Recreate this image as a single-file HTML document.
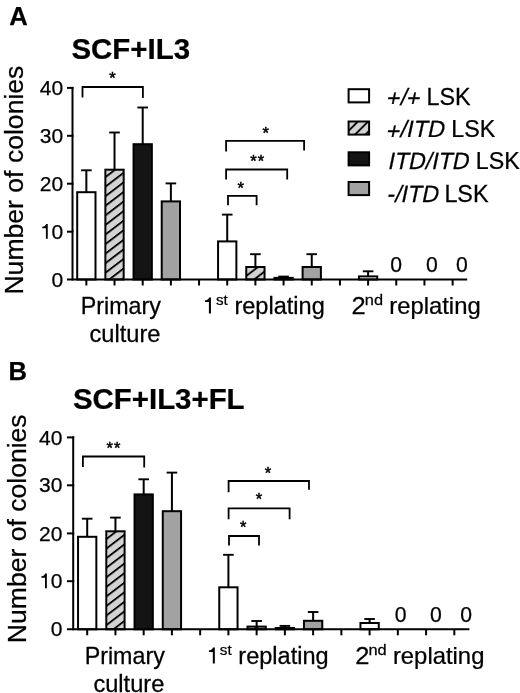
<!DOCTYPE html>
<html><head><meta charset="utf-8"><style>
html,body{margin:0;padding:0;background:#fff;width:520px;height:693px;overflow:hidden}
svg{display:block;filter:grayscale(1)}
text{font-family:"Liberation Sans",sans-serif;fill:#000;stroke:#000;stroke-width:0.25px}
</style></head><body>
<svg width="520" height="693" viewBox="0 0 520 693">
<defs>
<pattern id="h1" patternUnits="userSpaceOnUse" width="12.526" height="9.570" patternTransform="skewY(-37.380)"><rect width="12.526" height="9.570" fill="#d3d3d3"/><rect y="-1.877" width="12.526" height="2.3" fill="#000"/><rect y="7.693" width="12.526" height="2.3" fill="#000"/></pattern>
<pattern id="h2" patternUnits="userSpaceOnUse" width="12.526" height="9.570" patternTransform="skewY(-37.380)"><rect width="12.526" height="9.570" fill="#d3d3d3"/><rect y="3.593" width="12.526" height="2.3" fill="#000"/></pattern>
<pattern id="h3" patternUnits="userSpaceOnUse" width="10.300" height="10.300" patternTransform="skewY(-45.000)"><rect width="10.300" height="10.300" fill="#d3d3d3"/><rect y="4.300" width="10.300" height="2.6" fill="#000"/></pattern>
<pattern id="h4" patternUnits="userSpaceOnUse" width="12.526" height="9.570" patternTransform="skewY(-37.380)"><rect width="12.526" height="9.570" fill="#d3d3d3"/><rect y="6.662" width="12.526" height="2.3" fill="#000"/></pattern>
<pattern id="h5" patternUnits="userSpaceOnUse" width="12.526" height="9.570" patternTransform="skewY(-37.380)"><rect width="12.526" height="9.570" fill="#d3d3d3"/><rect y="-0.586" width="12.526" height="2.3" fill="#000"/><rect y="8.984" width="12.526" height="2.3" fill="#000"/></pattern>
</defs>
<rect width="520" height="693" fill="#fff"/>
<text transform="translate(9.16,24.80)" font-size="25.6" font-weight="bold" font-style="normal">A</text>
<text transform="translate(71.45,59.20) scale(1.0117,1)" font-size="29.1" font-weight="bold" font-style="normal">SCF+IL3</text>
<text transform="translate(23.20,294.58) rotate(-90) scale(1.0070,1)" font-size="26.4" font-weight="normal" font-style="normal">Number of colonies</text>
<text x="39.86" y="95.05" font-size="21.0" font-weight="normal" font-style="normal">40</text>
<text x="39.86" y="142.95" font-size="21.0" font-weight="normal" font-style="normal">30</text>
<text x="39.86" y="190.85" font-size="21.0" font-weight="normal" font-style="normal">20</text>
<text x="51.54" y="238.85" font-size="21.0" font-weight="normal" font-style="normal">0</text>
<path transform="translate(40.21,238.85) scale(0.02100,-0.02100)" d="M359 703L359 0L271 0L271 505L101 505L101 578C196 582 255 620 278 703Z" fill="#000"/>
<text x="51.54" y="286.65" font-size="21.0" font-weight="normal" font-style="normal">0</text>
<line x1="86.35" y1="192.20" x2="86.35" y2="170.30" stroke="#000" stroke-width="2"/>
<line x1="81.05" y1="170.30" x2="91.65" y2="170.30" stroke="#000" stroke-width="1.9"/>
<rect x="77.20" y="192.20" width="18.30" height="87.30" fill="#ffffff" stroke="#000" stroke-width="2.0"/>
<line x1="114.52" y1="169.70" x2="114.52" y2="132.50" stroke="#000" stroke-width="2"/>
<line x1="109.22" y1="132.50" x2="119.82" y2="132.50" stroke="#000" stroke-width="1.9"/>
<rect x="105.37" y="169.70" width="18.30" height="109.80" fill="url(#h1)" stroke="#000" stroke-width="2.0"/>
<line x1="142.70" y1="144.20" x2="142.70" y2="107.50" stroke="#000" stroke-width="2"/>
<line x1="137.40" y1="107.50" x2="148.00" y2="107.50" stroke="#000" stroke-width="1.9"/>
<rect x="133.55" y="144.20" width="18.30" height="135.30" fill="#141414" stroke="#000" stroke-width="2.0"/>
<line x1="170.88" y1="201.40" x2="170.88" y2="183.40" stroke="#000" stroke-width="2"/>
<line x1="165.57" y1="183.40" x2="176.18" y2="183.40" stroke="#000" stroke-width="1.9"/>
<rect x="161.72" y="201.40" width="18.30" height="78.10" fill="#a2a2a2" stroke="#000" stroke-width="2.0"/>
<line x1="227.22" y1="241.40" x2="227.22" y2="214.60" stroke="#000" stroke-width="2"/>
<line x1="221.92" y1="214.60" x2="232.53" y2="214.60" stroke="#000" stroke-width="1.9"/>
<rect x="218.07" y="241.40" width="18.30" height="38.10" fill="#ffffff" stroke="#000" stroke-width="2.0"/>
<line x1="255.40" y1="267.00" x2="255.40" y2="254.20" stroke="#000" stroke-width="2"/>
<line x1="250.10" y1="254.20" x2="260.70" y2="254.20" stroke="#000" stroke-width="1.9"/>
<rect x="246.25" y="267.00" width="18.30" height="12.50" fill="url(#h2)" stroke="#000" stroke-width="2.0"/>
<line x1="283.57" y1="277.90" x2="283.57" y2="276.60" stroke="#000" stroke-width="2"/>
<line x1="278.27" y1="276.60" x2="288.88" y2="276.60" stroke="#000" stroke-width="1.9"/>
<rect x="274.43" y="277.90" width="18.30" height="1.60" fill="#141414" stroke="#000" stroke-width="2.0"/>
<line x1="311.75" y1="267.00" x2="311.75" y2="254.20" stroke="#000" stroke-width="2"/>
<line x1="306.45" y1="254.20" x2="317.05" y2="254.20" stroke="#000" stroke-width="1.9"/>
<rect x="302.60" y="267.00" width="18.30" height="12.50" fill="#a2a2a2" stroke="#000" stroke-width="2.0"/>
<line x1="368.10" y1="276.40" x2="368.10" y2="271.30" stroke="#000" stroke-width="2"/>
<line x1="362.80" y1="271.30" x2="373.40" y2="271.30" stroke="#000" stroke-width="1.9"/>
<rect x="358.95" y="276.40" width="18.30" height="3.10" fill="#ffffff" stroke="#000" stroke-width="2.0"/>
<line x1="72.50" y1="86.90" x2="72.50" y2="280.50" stroke="#000" stroke-width="2"/>
<line x1="67.00" y1="87.90" x2="73.50" y2="87.90" stroke="#000" stroke-width="2"/>
<line x1="67.00" y1="135.80" x2="73.50" y2="135.80" stroke="#000" stroke-width="2"/>
<line x1="67.00" y1="183.70" x2="73.50" y2="183.70" stroke="#000" stroke-width="2"/>
<line x1="67.00" y1="231.70" x2="73.50" y2="231.70" stroke="#000" stroke-width="2"/>
<line x1="67.00" y1="279.50" x2="467.20" y2="279.50" stroke="#000" stroke-width="2"/>
<line x1="86.35" y1="279.50" x2="86.35" y2="285.50" stroke="#000" stroke-width="2"/>
<line x1="114.52" y1="279.50" x2="114.52" y2="285.50" stroke="#000" stroke-width="2"/>
<line x1="142.70" y1="279.50" x2="142.70" y2="285.50" stroke="#000" stroke-width="2"/>
<line x1="170.88" y1="279.50" x2="170.88" y2="285.50" stroke="#000" stroke-width="2"/>
<line x1="199.05" y1="279.50" x2="199.05" y2="285.50" stroke="#000" stroke-width="2"/>
<line x1="227.22" y1="279.50" x2="227.22" y2="285.50" stroke="#000" stroke-width="2"/>
<line x1="255.40" y1="279.50" x2="255.40" y2="285.50" stroke="#000" stroke-width="2"/>
<line x1="283.57" y1="279.50" x2="283.57" y2="285.50" stroke="#000" stroke-width="2"/>
<line x1="311.75" y1="279.50" x2="311.75" y2="285.50" stroke="#000" stroke-width="2"/>
<line x1="339.93" y1="279.50" x2="339.93" y2="285.50" stroke="#000" stroke-width="2"/>
<line x1="368.10" y1="279.50" x2="368.10" y2="285.50" stroke="#000" stroke-width="2"/>
<line x1="396.27" y1="279.50" x2="396.27" y2="285.50" stroke="#000" stroke-width="2"/>
<line x1="424.45" y1="279.50" x2="424.45" y2="285.50" stroke="#000" stroke-width="2"/>
<line x1="452.62" y1="279.50" x2="452.62" y2="285.50" stroke="#000" stroke-width="2"/>
<path d="M82.50,97.50 V87.00 H142.90 V98.00" fill="none" stroke="#000" stroke-width="1.8" stroke-linejoin="miter" stroke-linecap="butt"/>
<text style="stroke-width:0.5px" x="109.29" y="83.65" font-size="16.5" font-weight="normal" font-style="normal">*</text>
<path d="M226.10,151.60 V140.90 H304.10 V150.60" fill="none" stroke="#000" stroke-width="1.8" stroke-linejoin="miter" stroke-linecap="butt"/>
<text style="stroke-width:0.5px" x="262.39" y="139.45" font-size="16.5" font-weight="normal" font-style="normal">*</text>
<path d="M226.10,179.50 V169.50 H287.20 V179.50" fill="none" stroke="#000" stroke-width="1.8" stroke-linejoin="miter" stroke-linecap="butt"/>
<text style="stroke-width:0.5px" x="250.27" y="166.55" font-size="16.5" font-weight="normal" font-style="normal" letter-spacing="1">**</text>
<path d="M228.00,205.20 V195.80 H256.60 V205.20" fill="none" stroke="#000" stroke-width="1.8" stroke-linejoin="miter" stroke-linecap="butt"/>
<text style="stroke-width:0.5px" x="237.59" y="193.65" font-size="16.5" font-weight="normal" font-style="normal">*</text>
<text x="390.30" y="272.00" font-size="21.2" font-weight="normal" font-style="normal">0</text>
<text x="426.10" y="272.00" font-size="21.2" font-weight="normal" font-style="normal">0</text>
<text x="455.90" y="272.00" font-size="21.2" font-weight="normal" font-style="normal">0</text>
<text transform="translate(80.79,313.60) scale(1.0118,1)" font-size="23.0" font-weight="normal" font-style="normal">Primary</text>
<text transform="translate(89.50,341.80) scale(1.0278,1)" font-size="23.0" font-weight="normal" font-style="normal">culture</text>
<path transform="translate(202.68,313.60) scale(0.02300,-0.02300)" d="M359 703L359 0L271 0L271 505L101 505L101 578C196 582 255 620 278 703Z" fill="#000"/>
<text transform="translate(215.88,305.00) scale(0.9816,1)" font-size="15.5" font-weight="normal" font-style="normal">st</text>
<text transform="translate(234.44,313.60) scale(1.0244,1)" font-size="23.0" font-weight="normal" font-style="normal">replating</text>
<text transform="translate(351.62,313.60) scale(1.1071,1)" font-size="23.0" font-weight="normal" font-style="normal">2</text>
<text transform="translate(364.81,305.00) scale(1.0583,1)" font-size="15.5" font-weight="normal" font-style="normal">nd</text>
<text transform="translate(389.22,313.60) scale(1.0374,1)" font-size="23.0" font-weight="normal" font-style="normal">replating</text>
<rect x="348.60" y="89.20" width="20.50" height="13.20" fill="#ffffff" stroke="#000" stroke-width="2"/>
<rect x="348.60" y="121.50" width="20.50" height="13.10" fill="url(#h3)" stroke="#000" stroke-width="2"/>
<rect x="348.60" y="152.30" width="20.50" height="13.10" fill="#141414" stroke="#000" stroke-width="2"/>
<rect x="348.60" y="182.00" width="20.50" height="13.10" fill="#a2a2a2" stroke="#000" stroke-width="2"/>
<text transform="translate(385.78,104.60) scale(0.9929,1) skewX(-12)" font-size="23.5"><tspan dy="1.88">+</tspan><tspan dy="-1.88">/</tspan><tspan dy="1.88">+</tspan></text>
<text transform="translate(426.48,104.60) scale(0.9946,1)" font-size="23.5" font-weight="normal" font-style="normal">LSK</text>
<text transform="translate(385.57,136.90) scale(1.0008,1) skewX(-12)" font-size="23.5"><tspan dy="1.88">+</tspan><tspan dy="-1.88">/</tspan>ITD</text>
<text transform="translate(451.29,136.90) scale(0.9899,1)" font-size="23.5" font-weight="normal" font-style="normal">LSK</text>
<text transform="translate(387.26,169.20) scale(0.9858,1) skewX(-12)" font-size="23.5">ITD/ITD</text>
<text transform="translate(475.80,169.20) scale(0.9875,1)" font-size="23.5" font-weight="normal" font-style="normal">LSK</text>
<text transform="translate(386.15,201.50) scale(0.9880,1) skewX(-12)" font-size="23.5">-/ITD</text>
<text transform="translate(444.38,201.50) scale(0.9946,1)" font-size="23.5" font-weight="normal" font-style="normal">LSK</text>
<text transform="translate(8.49,379.80)" font-size="25.6" font-weight="bold" font-style="normal">B</text>
<text transform="translate(72.95,408.80) scale(1.0116,1)" font-size="29.1" font-weight="bold" font-style="normal">SCF+IL3+FL</text>
<text transform="translate(25.80,643.18) rotate(-90) scale(1.0104,1)" font-size="26.3" font-weight="normal" font-style="normal">Number of colonies</text>
<text x="38.96" y="444.55" font-size="21.0" font-weight="normal" font-style="normal">40</text>
<text x="38.96" y="492.45" font-size="21.0" font-weight="normal" font-style="normal">30</text>
<text x="38.96" y="540.55" font-size="21.0" font-weight="normal" font-style="normal">20</text>
<text x="50.64" y="588.35" font-size="21.0" font-weight="normal" font-style="normal">0</text>
<path transform="translate(39.31,588.35) scale(0.02100,-0.02100)" d="M359 703L359 0L271 0L271 505L101 505L101 578C196 582 255 620 278 703Z" fill="#000"/>
<text x="50.64" y="636.45" font-size="21.0" font-weight="normal" font-style="normal">0</text>
<line x1="87.20" y1="536.80" x2="87.20" y2="518.70" stroke="#000" stroke-width="2"/>
<line x1="81.90" y1="518.70" x2="92.50" y2="518.70" stroke="#000" stroke-width="1.9"/>
<rect x="78.05" y="536.80" width="18.30" height="92.50" fill="#ffffff" stroke="#000" stroke-width="2.0"/>
<line x1="115.44" y1="531.30" x2="115.44" y2="517.60" stroke="#000" stroke-width="2"/>
<line x1="110.14" y1="517.60" x2="120.74" y2="517.60" stroke="#000" stroke-width="1.9"/>
<rect x="106.29" y="531.30" width="18.30" height="98.00" fill="url(#h4)" stroke="#000" stroke-width="2.0"/>
<line x1="143.68" y1="494.40" x2="143.68" y2="479.30" stroke="#000" stroke-width="2"/>
<line x1="138.38" y1="479.30" x2="148.98" y2="479.30" stroke="#000" stroke-width="1.9"/>
<rect x="134.53" y="494.40" width="18.30" height="134.90" fill="#141414" stroke="#000" stroke-width="2.0"/>
<line x1="171.92" y1="511.20" x2="171.92" y2="472.60" stroke="#000" stroke-width="2"/>
<line x1="166.62" y1="472.60" x2="177.22" y2="472.60" stroke="#000" stroke-width="1.9"/>
<rect x="162.77" y="511.20" width="18.30" height="118.10" fill="#a2a2a2" stroke="#000" stroke-width="2.0"/>
<line x1="228.40" y1="587.30" x2="228.40" y2="554.80" stroke="#000" stroke-width="2"/>
<line x1="223.10" y1="554.80" x2="233.70" y2="554.80" stroke="#000" stroke-width="1.9"/>
<rect x="219.25" y="587.30" width="18.30" height="42.00" fill="#ffffff" stroke="#000" stroke-width="2.0"/>
<line x1="256.64" y1="626.60" x2="256.64" y2="621.00" stroke="#000" stroke-width="2"/>
<line x1="251.34" y1="621.00" x2="261.94" y2="621.00" stroke="#000" stroke-width="1.9"/>
<rect x="247.49" y="626.60" width="18.30" height="2.70" fill="url(#h5)" stroke="#000" stroke-width="2.0"/>
<line x1="284.88" y1="628.00" x2="284.88" y2="625.90" stroke="#000" stroke-width="2"/>
<line x1="279.58" y1="625.90" x2="290.18" y2="625.90" stroke="#000" stroke-width="1.9"/>
<rect x="275.73" y="628.00" width="18.30" height="1.30" fill="#141414" stroke="#000" stroke-width="2.0"/>
<line x1="313.12" y1="620.80" x2="313.12" y2="612.00" stroke="#000" stroke-width="2"/>
<line x1="307.82" y1="612.00" x2="318.42" y2="612.00" stroke="#000" stroke-width="1.9"/>
<rect x="303.97" y="620.80" width="18.30" height="8.50" fill="#a2a2a2" stroke="#000" stroke-width="2.0"/>
<line x1="369.60" y1="623.00" x2="369.60" y2="619.00" stroke="#000" stroke-width="2"/>
<line x1="364.30" y1="619.00" x2="374.90" y2="619.00" stroke="#000" stroke-width="1.9"/>
<rect x="360.45" y="623.00" width="18.30" height="6.30" fill="#ffffff" stroke="#000" stroke-width="2.0"/>
<line x1="73.20" y1="436.40" x2="73.20" y2="630.30" stroke="#000" stroke-width="2"/>
<line x1="67.00" y1="437.40" x2="74.20" y2="437.40" stroke="#000" stroke-width="2"/>
<line x1="67.00" y1="485.30" x2="74.20" y2="485.30" stroke="#000" stroke-width="2"/>
<line x1="67.00" y1="533.40" x2="74.20" y2="533.40" stroke="#000" stroke-width="2"/>
<line x1="67.00" y1="581.20" x2="74.20" y2="581.20" stroke="#000" stroke-width="2"/>
<line x1="67.00" y1="629.30" x2="469.40" y2="629.30" stroke="#000" stroke-width="2"/>
<line x1="87.20" y1="629.30" x2="87.20" y2="635.30" stroke="#000" stroke-width="2"/>
<line x1="115.44" y1="629.30" x2="115.44" y2="635.30" stroke="#000" stroke-width="2"/>
<line x1="143.68" y1="629.30" x2="143.68" y2="635.30" stroke="#000" stroke-width="2"/>
<line x1="171.92" y1="629.30" x2="171.92" y2="635.30" stroke="#000" stroke-width="2"/>
<line x1="200.16" y1="629.30" x2="200.16" y2="635.30" stroke="#000" stroke-width="2"/>
<line x1="228.40" y1="629.30" x2="228.40" y2="635.30" stroke="#000" stroke-width="2"/>
<line x1="256.64" y1="629.30" x2="256.64" y2="635.30" stroke="#000" stroke-width="2"/>
<line x1="284.88" y1="629.30" x2="284.88" y2="635.30" stroke="#000" stroke-width="2"/>
<line x1="313.12" y1="629.30" x2="313.12" y2="635.30" stroke="#000" stroke-width="2"/>
<line x1="341.36" y1="629.30" x2="341.36" y2="635.30" stroke="#000" stroke-width="2"/>
<line x1="369.60" y1="629.30" x2="369.60" y2="635.30" stroke="#000" stroke-width="2"/>
<line x1="397.84" y1="629.30" x2="397.84" y2="635.30" stroke="#000" stroke-width="2"/>
<line x1="426.08" y1="629.30" x2="426.08" y2="635.30" stroke="#000" stroke-width="2"/>
<line x1="454.32" y1="629.30" x2="454.32" y2="635.30" stroke="#000" stroke-width="2"/>
<path d="M82.90,467.00 V456.50 H144.20 V467.40" fill="none" stroke="#000" stroke-width="1.8" stroke-linejoin="miter" stroke-linecap="butt"/>
<text style="stroke-width:0.5px" x="106.57" y="453.95" font-size="16.5" font-weight="normal" font-style="normal" letter-spacing="1">**</text>
<path d="M228.60,492.30 V481.00 H309.00 V489.70" fill="none" stroke="#000" stroke-width="1.8" stroke-linejoin="miter" stroke-linecap="butt"/>
<text style="stroke-width:0.5px" x="264.69" y="478.55" font-size="16.5" font-weight="normal" font-style="normal">*</text>
<path d="M228.60,519.20 V508.40 H289.60 V519.20" fill="none" stroke="#000" stroke-width="1.8" stroke-linejoin="miter" stroke-linecap="butt"/>
<text style="stroke-width:0.5px" x="255.79" y="505.35" font-size="16.5" font-weight="normal" font-style="normal">*</text>
<path d="M229.00,545.60 V536.00 H259.00 V545.60" fill="none" stroke="#000" stroke-width="1.8" stroke-linejoin="miter" stroke-linecap="butt"/>
<text style="stroke-width:0.5px" x="239.89" y="532.85" font-size="16.5" font-weight="normal" font-style="normal">*</text>
<text x="394.70" y="622.40" font-size="21.2" font-weight="normal" font-style="normal">0</text>
<text x="430.10" y="622.40" font-size="21.2" font-weight="normal" font-style="normal">0</text>
<text x="460.30" y="622.40" font-size="21.2" font-weight="normal" font-style="normal">0</text>
<text transform="translate(84.69,663.60) scale(1.0118,1)" font-size="23.0" font-weight="normal" font-style="normal">Primary</text>
<text transform="translate(93.40,692.20) scale(1.0278,1)" font-size="23.0" font-weight="normal" font-style="normal">culture</text>
<path transform="translate(206.58,663.60) scale(0.02300,-0.02300)" d="M359 703L359 0L271 0L271 505L101 505L101 578C196 582 255 620 278 703Z" fill="#000"/>
<text transform="translate(219.78,655.00) scale(0.9816,1)" font-size="15.5" font-weight="normal" font-style="normal">st</text>
<text transform="translate(238.34,663.60) scale(1.0244,1)" font-size="23.0" font-weight="normal" font-style="normal">replating</text>
<text transform="translate(355.32,663.60) scale(1.1071,1)" font-size="23.0" font-weight="normal" font-style="normal">2</text>
<text transform="translate(368.51,655.00) scale(1.0583,1)" font-size="15.5" font-weight="normal" font-style="normal">nd</text>
<text transform="translate(392.92,663.60) scale(1.0374,1)" font-size="23.0" font-weight="normal" font-style="normal">replating</text>
</svg>
</body></html>
